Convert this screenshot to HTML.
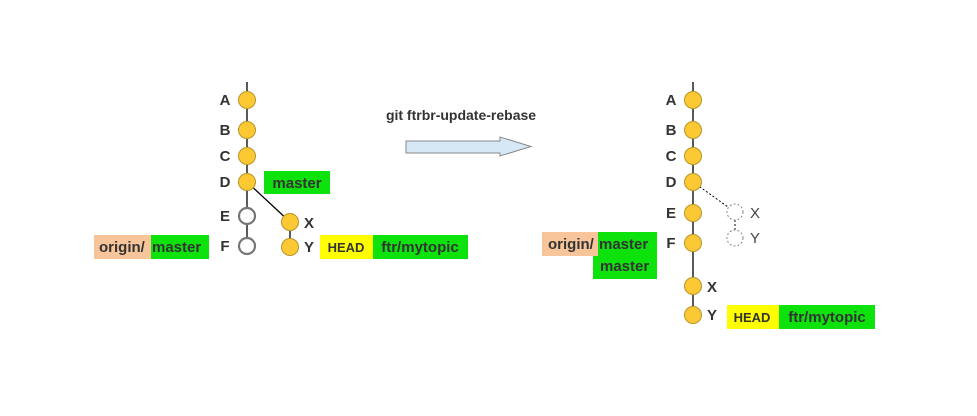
<!DOCTYPE html>
<html><head><meta charset="utf-8"><style>
html,body{margin:0;padding:0;background:#fff;}
svg{display:block;}
text{font-family:"Liberation Sans",sans-serif;font-weight:bold;fill:#333;}
</style></head><body>
<svg width="977" height="416" viewBox="0 0 977 416" xmlns="http://www.w3.org/2000/svg">
<rect width="977" height="416" fill="#fff"/>
<!-- LEFT -->
<line x1="247" y1="82" x2="247" y2="246" stroke="#000" stroke-width="1.3"/>
<line x1="247" y1="182" x2="290" y2="222" stroke="#000" stroke-width="1.3"/>
<line x1="290" y1="222" x2="290" y2="247" stroke="#000" stroke-width="1.3"/>
<g fill="#fcc934" stroke="#b8962a" stroke-width="1">
<circle cx="247" cy="100" r="8.5"/><circle cx="247" cy="130" r="8.5"/><circle cx="247" cy="156" r="8.5"/><circle cx="247" cy="182" r="8.5"/>
<circle cx="290" cy="222" r="8.5"/><circle cx="290" cy="247" r="8.5"/>
</g>
<g fill="#fff" stroke="#777" stroke-width="2.2">
<circle cx="247" cy="216" r="8"/><circle cx="247" cy="246" r="8"/>
</g>
<g font-size="15" text-anchor="middle">
<text x="225" y="105">A</text><text x="225" y="135">B</text><text x="225" y="161">C</text><text x="225" y="187">D</text>
<text x="225" y="221">E</text><text x="225" y="251">F</text>
<text x="309" y="228">X</text><text x="309" y="252">Y</text>
</g>
<rect x="264" y="171" width="66" height="23" fill="#0de20d"/>
<text x="297" y="188" font-size="15" text-anchor="middle">master</text>
<rect x="94" y="235" width="57" height="24" fill="#f8c59b"/>
<rect x="151" y="235" width="58" height="24" fill="#0de20d"/>
<text x="99" y="252" font-size="15">origin/</text><text x="152" y="252" font-size="15">master</text>
<rect x="320" y="235" width="53" height="24" fill="#ffff00"/>
<rect x="373" y="235" width="95" height="24" fill="#0de20d"/>
<text x="346" y="252" font-size="13" text-anchor="middle">HEAD</text>
<text x="420" y="252" font-size="15" text-anchor="middle">ftr/mytopic</text>
<!-- arrow -->
<text x="461" y="120" font-size="14" text-anchor="middle">git ftrbr-update-rebase</text>
<polygon points="406,141 500,141 500,137 531,146.5 500,156 500,153 406,153" fill="#d6e8f5" stroke="#888" stroke-width="1"/>
<!-- RIGHT -->
<line x1="693" y1="82" x2="693" y2="315" stroke="#000" stroke-width="1.3"/>
<line x1="693" y1="182" x2="735" y2="212" stroke="#000" stroke-width="1" stroke-dasharray="2,2"/>
<line x1="735" y1="212" x2="735" y2="238" stroke="#000" stroke-width="1" stroke-dasharray="2,2"/>
<g fill="#fff" stroke="#888" stroke-width="1" stroke-dasharray="2,2">
<circle cx="735" cy="212" r="8"/><circle cx="735" cy="238" r="8"/>
</g>
<g fill="#fcc934" stroke="#b8962a" stroke-width="1">
<circle cx="693" cy="100" r="8.5"/><circle cx="693" cy="130" r="8.5"/><circle cx="693" cy="156" r="8.5"/><circle cx="693" cy="182" r="8.5"/>
<circle cx="693" cy="213" r="8.5"/><circle cx="693" cy="243" r="8.5"/><circle cx="693" cy="286" r="8.5"/><circle cx="693" cy="315" r="8.5"/>
</g>
<g font-size="15" text-anchor="middle">
<text x="671" y="105">A</text><text x="671" y="135">B</text><text x="671" y="161">C</text><text x="671" y="187">D</text>
<text x="671" y="218">E</text><text x="671" y="248">F</text>
<text x="712" y="292">X</text><text x="712" y="320">Y</text>
</g>
<text x="750" y="218" font-size="15" style="font-weight:normal;fill:#444">X</text>
<text x="750" y="243" font-size="15" style="font-weight:normal;fill:#444">Y</text>
<rect x="542" y="232" width="56" height="24" fill="#f8c59b"/>
<rect x="598" y="232" width="59" height="24" fill="#0de20d"/>
<rect x="593" y="256" width="64" height="23" fill="#0de20d"/>
<text x="548" y="249" font-size="15">origin/</text><text x="599" y="249" font-size="15">master</text>
<text x="600" y="271" font-size="15">master</text>
<rect x="727" y="305" width="52" height="24" fill="#ffff00"/>
<rect x="779" y="305" width="96" height="24" fill="#0de20d"/>
<text x="752" y="322" font-size="13" text-anchor="middle">HEAD</text>
<text x="827" y="322" font-size="15" text-anchor="middle">ftr/mytopic</text>
</svg>
</body></html>
